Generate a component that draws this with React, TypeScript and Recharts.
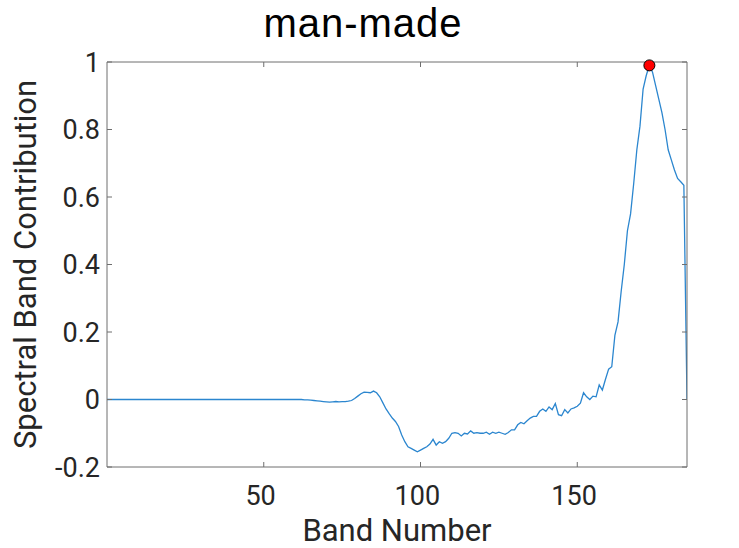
import React from "react";
import { LineChart, Line, XAxis, YAxis, ReferenceDot } from "recharts";

// band index 1..186
const bands: number[] = Array.from({ length: 186 }, (_, i) => i + 1);

// contribution per band
const flatPart: number[] = [
  0, 0, 0, 0, 0, 0, 0, 0, 0, 0,
  0, 0, 0, 0, 0, 0, 0, 0, 0, 0,
  0, 0, 0, 0, 0, 0, 0, 0, 0, 0,
  0, 0, 0, 0, 0, 0, 0, 0, 0, 0,
  0, 0, 0, 0, 0, 0, 0, 0, 0, 0,
  0, 0, 0, 0, 0, 0, 0, 0, 0, 0,
];
const restPart: number[] = [
  0, 0, 0, -0.001, -0.001, -0.002, -0.003, -0.004, -0.005, -0.006, // 61-70
  -0.007, -0.008, -0.007, -0.006, -0.007, -0.006, -0.006, -0.005, -0.003, 0.003, // 71-80
  0.01, 0.017, 0.022, 0.021, 0.02, 0.025, 0.02, 0.008, -0.01, -0.028, // 81-90
  -0.042, -0.055, -0.065, -0.08, -0.105, -0.125, -0.14, -0.145, -0.15, -0.155, // 91-100
  -0.15, -0.145, -0.14, -0.132, -0.118, -0.135, -0.125, -0.13, -0.125, -0.115, // 101-110
  -0.1, -0.098, -0.1, -0.108, -0.1, -0.102, -0.093, -0.1, -0.098, -0.1, // 111-120
  -0.1, -0.097, -0.103, -0.097, -0.1, -0.097, -0.1, -0.103, -0.098, -0.09, // 121-130
  -0.09, -0.075, -0.068, -0.072, -0.063, -0.055, -0.05, -0.05, -0.035, -0.028, // 131-140
  -0.035, -0.022, -0.03, -0.012, -0.045, -0.048, -0.03, -0.04, -0.028, -0.025, // 141-150
  -0.02, -0.011, 0.02, 0.008, 0, 0.01, 0.008, 0.043, 0.028, 0.06, // 151-160
  0.09, 0.097, 0.19, 0.23, 0.32, 0.4, 0.5, 0.55, 0.64, 0.74, // 161-170
  0.81, 0.92, 0.96, 0.99, 0.97, 0.93, 0.89, 0.85, 0.8, 0.74, // 171-180
  0.71, 0.68, 0.655, 0.645, 0.635, 0, // 181-186
];
const contribution: number[] = [...flatPart, ...restPart];

const peakBand = 174;
const peakValue = 0.99;

const xTicks = [50, 100, 150];
const yTicks = [-0.2, 0, 0.2, 0.4, 0.6, 0.8, 1];

const data = bands.map((b, i) => ({ band: b, value: contribution[i] }));

const boxColor = "#6e6e6e";
const textColor = "#262626";
const font = "Roboto, sans-serif";

const noLabel = () => <g />;

export default function App() {
  return (
    <div style={{ position: "absolute", left: 0, top: 0, background: "#fff" }}>
      <LineChart width={739} height={548} data={data} margin={{ top: 62, right: 52, bottom: 0, left: 0 }}>
        <text x={363} y={37} textAnchor="middle" fontSize={40} letterSpacing={1} fontFamily="Liberation Sans, Arial, sans-serif" fill="#000">
          man-made
        </text>
        <XAxis
          dataKey="band"
          type="number"
          domain={[1, 186]}
          ticks={xTicks}
          allowDataOverflow
          height={81}
          axisLine={false}
          tickLine={false}
          tickSize={0}
          tickMargin={19}
          tick={{ fontSize: 27, fill: textColor, fontFamily: font }}
          label={{ value: "Band Number", position: "center", dy: 22, fontSize: 31, fill: textColor, fontFamily: font }}
        />
        <XAxis xAxisId="bottomTicks" type="number" domain={[1, 186]} ticks={xTicks} allowDataOverflow mirror orientation="bottom" stroke={boxColor} tickSize={5} tick={noLabel} />
        <XAxis xAxisId="topTicks" type="number" domain={[1, 186]} ticks={xTicks} allowDataOverflow mirror orientation="top" stroke={boxColor} tickSize={5} tick={noLabel} />
        <YAxis
          type="number"
          domain={[-0.2, 1]}
          ticks={yTicks}
          allowDataOverflow
          width={107}
          axisLine={false}
          tickLine={false}
          tickSize={0}
          tickMargin={7}
          tick={{ fontSize: 27, fill: textColor, fontFamily: font }}
          label={{ value: "Spectral Band Contribution", angle: -90, position: "center", dx: -29, fontSize: 31, fill: textColor, fontFamily: font }}
        />
        <YAxis yAxisId="leftTicks" type="number" domain={[-0.2, 1]} ticks={yTicks} allowDataOverflow mirror orientation="left" stroke={boxColor} tickSize={5} tick={noLabel} />
        <YAxis yAxisId="rightTicks" type="number" domain={[-0.2, 1]} ticks={yTicks} allowDataOverflow mirror orientation="right" stroke={boxColor} tickSize={5} tick={noLabel} />
        <Line type="linear" dataKey="value" stroke="#2b86cf" strokeWidth={1.3} dot={false} isAnimationActive={false} />
        <ReferenceDot x={peakBand} y={peakValue} r={5.5} fill="#ff0000" stroke="#000" strokeWidth={1} />
      </LineChart>
    </div>
  );
}
